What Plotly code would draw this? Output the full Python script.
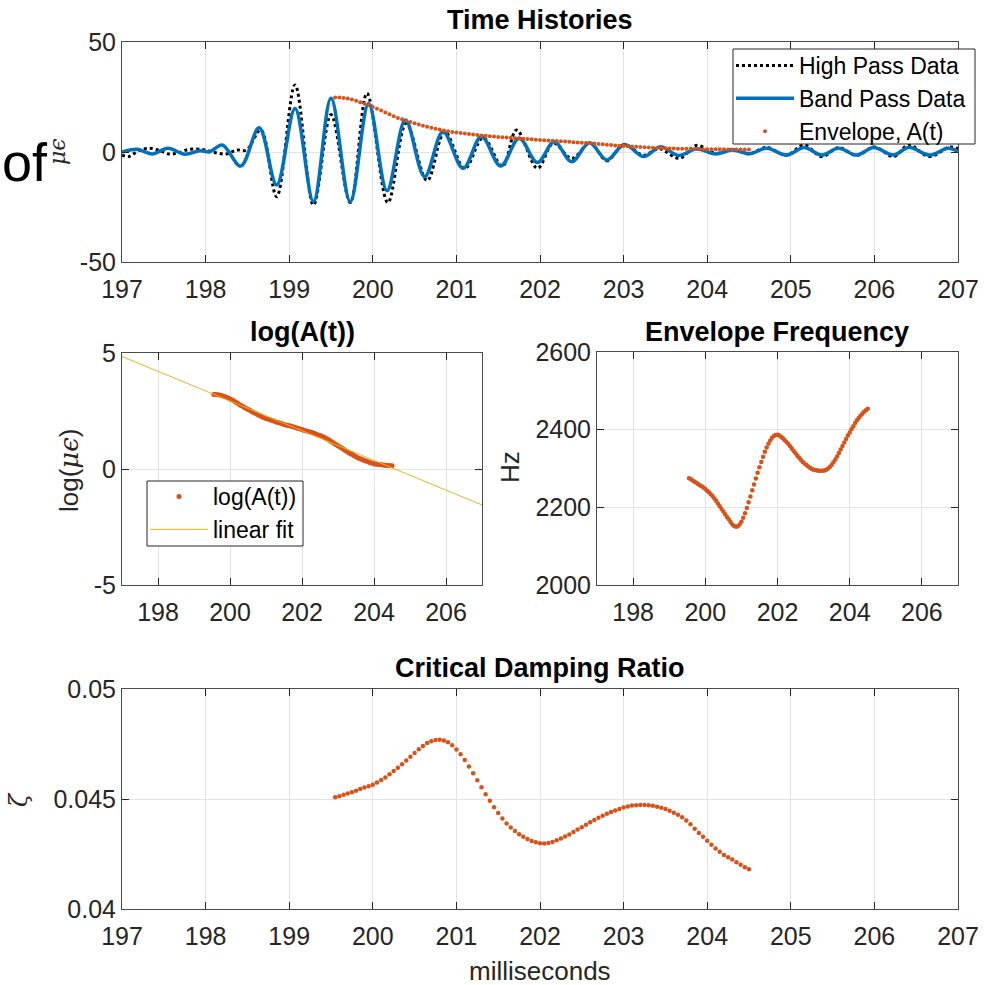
import numpy as np
import plotly.graph_objects as go

# ---------------- data ----------------
# Band pass data: extrema of the oscillation (ms, micro-strain)
t_band = [197.00, 197.18, 197.36, 197.55, 197.75, 197.93, 198.05, 198.20, 198.42, 198.64,
          198.85, 199.07, 199.29, 199.50, 199.73, 199.95, 200.17, 200.39, 200.62, 200.84,
          201.08, 201.30, 201.53, 201.75, 201.97, 202.17, 202.38, 202.59, 202.80, 203.01,
          203.24, 203.44, 203.66, 203.87, 204.10, 204.30, 204.51, 204.71, 204.95, 205.16,
          205.37, 205.57, 205.79, 205.99, 206.23, 206.41, 206.66, 206.88, 207.00]
v_band = [0.0, 1.2, -0.9, 1.7, -1.0, 0.6, 0.1, 3.2, -6.4, 11.0,
          -15.0, 19.8, -22.6, 24.4, -22.6, 22.1, -17.6, 14.5, -11.2, 9.2,
          -7.4, 7.0, -6.4, 6.2, -4.8, 4.7, -4.4, 4.2, -3.6, 3.4,
          -2.1, 2.4, -1.6, 1.4, -0.9, 0.9, -0.8, 1.7, -1.4, 2.1,
          -1.4, 1.7, -1.4, 2.1, -1.4, 2.1, -1.4, 1.7, 0.2]

# High pass data: extrema
t_high = [197.00, 197.08, 197.20, 197.32, 197.45, 197.56, 197.68, 197.80, 197.95, 198.05,
          198.15, 198.25, 198.37, 198.49, 198.66, 198.85, 199.07, 199.29, 199.50, 199.73,
          199.93, 200.18, 200.40, 200.65, 200.86, 201.10, 201.32, 201.55, 201.72, 201.97,
          202.16, 202.38, 202.60, 202.80, 203.00, 203.24, 203.42, 203.67, 203.87, 204.10,
          204.30, 204.50, 204.71, 204.95, 205.16, 205.37, 205.57, 205.79, 206.00, 206.23,
          206.41, 206.66, 206.90, 207.00]
v_high = [-1.4, -2.1, 0.6, 1.7, 0.7, -0.9, -0.3, 1.2, 1.2, 0.4,
          -0.6, -0.9, 0.9, 0.9, 10.0, -20.3, 30.5, -24.1, 17.0, -23.0,
          26.7, -23.0, 13.0, -13.0, 9.2, -7.5, 6.5, -6.5, 10.0, -7.4,
          4.0, -3.0, 4.0, -4.0, 3.4, -1.5, 1.5, -2.9, 3.0, -0.6,
          1.2, -0.9, 2.1, -1.4, 3.2, -2.1, 2.0, -1.6, 2.3, -2.1,
          3.2, -2.1, 2.3, 1.5]

# Envelope samples
t_env = [199.55, 199.60, 199.65, 199.70, 199.75, 199.80, 199.85, 199.90, 199.95, 200.00,
         200.05, 200.10, 200.15, 200.20, 200.25, 200.30, 200.35, 200.40, 200.45, 200.50,
         200.55, 200.60, 200.65, 200.70, 200.75, 200.80, 200.85, 200.90, 200.95, 201.00,
         201.05, 201.10, 201.15, 201.20, 201.25, 201.30, 201.35, 201.40, 201.45, 201.50,
         201.55, 201.60, 201.65, 201.70, 201.75, 201.80, 201.85, 201.90, 201.95, 202.00,
         202.05, 202.10, 202.15, 202.20, 202.25, 202.30, 202.35, 202.40, 202.45, 202.50,
         202.55, 202.60, 202.65, 202.70, 202.75, 202.80, 202.85, 202.90, 202.95, 203.00,
         203.05, 203.10, 203.15, 203.20, 203.25, 203.30, 203.35, 203.40, 203.45, 203.50,
         203.55, 203.60, 203.65, 203.70, 203.75, 203.80, 203.85, 203.90, 203.95, 204.00,
         204.05, 204.10, 204.15, 204.20, 204.25, 204.30, 204.35, 204.40, 204.45, 204.50]

log_env = [3.21, 3.21, 3.20, 3.19, 3.17, 3.15, 3.12, 3.09, 3.06, 3.02,
           2.98, 2.94, 2.89, 2.84, 2.79, 2.74, 2.70, 2.65, 2.61, 2.57,
           2.53, 2.48, 2.44, 2.40, 2.36, 2.32, 2.28, 2.24, 2.21, 2.18,
           2.15, 2.13, 2.10, 2.08, 2.05, 2.02, 2.00, 1.97, 1.95, 1.92,
           1.90, 1.88, 1.86, 1.84, 1.82, 1.80, 1.77, 1.75, 1.72, 1.70,
           1.67, 1.65, 1.63, 1.61, 1.58, 1.56, 1.53, 1.50, 1.47, 1.44,
           1.41, 1.38, 1.34, 1.29, 1.25, 1.20, 1.15, 1.10, 1.05, 1.00,
           0.95, 0.90, 0.85, 0.80, 0.75, 0.70, 0.66, 0.62, 0.57, 0.53,
           0.49, 0.45, 0.42, 0.39, 0.36, 0.33, 0.30, 0.27, 0.25, 0.23,
           0.21, 0.20, 0.19, 0.18, 0.17, 0.16, 0.15, 0.15, 0.14, 0.14]
envelope = np.exp(log_env)   # A(t)

freq_env = [2275, 2272, 2269, 2266, 2263, 2260, 2257, 2254, 2251, 2247,
            2243, 2239, 2234, 2229, 2223, 2217, 2210, 2203, 2196, 2189,
            2182, 2175, 2169, 2162, 2156, 2152, 2150, 2151, 2156, 2163,
            2173, 2185, 2198, 2213, 2228, 2244, 2259, 2274, 2289, 2303,
            2317, 2330, 2343, 2354, 2364, 2372, 2379, 2384, 2386, 2387,
            2385, 2382, 2378, 2373, 2368, 2363, 2357, 2351, 2345, 2339,
            2333, 2328, 2322, 2317, 2313, 2309, 2305, 2302, 2299, 2297,
            2296, 2295, 2294, 2294, 2294, 2295, 2297, 2300, 2304, 2309,
            2316, 2323, 2331, 2340, 2349, 2358, 2367, 2376, 2385, 2393,
            2401, 2409, 2417, 2424, 2430, 2436, 2441, 2446, 2450, 2454]

zeta_env = [0.04508, 0.04513, 0.04519, 0.04525, 0.04531, 0.04538, 0.04545, 0.04552, 0.04558, 0.04565,
            0.04575, 0.04586, 0.04598, 0.04612, 0.04627, 0.04642, 0.04658, 0.04675, 0.04692, 0.04709,
            0.04726, 0.04741, 0.04754, 0.04763, 0.04768, 0.04769, 0.04766, 0.04758, 0.04744, 0.04725,
            0.04703, 0.04677, 0.04648, 0.04617, 0.04585, 0.04553, 0.04522, 0.04492, 0.04463, 0.04436,
            0.04411, 0.04389, 0.04370, 0.04354, 0.04340, 0.04328, 0.04318, 0.04309, 0.04303, 0.04299,
            0.04298, 0.04300, 0.04305, 0.04312, 0.04320, 0.04329, 0.04339, 0.04350, 0.04361, 0.04372,
            0.04383, 0.04394, 0.04405, 0.04415, 0.04424, 0.04433, 0.04441, 0.04448, 0.04455, 0.04461,
            0.04466, 0.04470, 0.04472, 0.04473, 0.04473, 0.04472, 0.04469, 0.04465, 0.04460, 0.04454,
            0.04447, 0.04438, 0.04428, 0.04417, 0.04402, 0.04385, 0.04365, 0.04346, 0.04328, 0.04310,
            0.04292, 0.04275, 0.04260, 0.04246, 0.04235, 0.04225, 0.04213, 0.04201, 0.04190, 0.04181]

# linear fit of log(A(t))
fit_slope = -0.64          # per ms
fit_value_at_197 = 4.85
fit_t = [197, 207]
fit_y = [fit_value_at_197 + fit_slope * (t - 197) for t in fit_t]

# ---------------- styling ----------------
W, H = 990, 985
BLUE, ORANGE, YELLOW = "#0072BD", "#D95319", "#EDB120"
AX = "#262626"
GRID = "#e3e3e3"
FONT = "Liberation Sans, Arial, Helvetica, sans-serif"
SERIF = "DejaVu Serif, serif"


def px(xp):
    return xp / W


def py(yp):
    return 1 - yp / H


def axis(domain, anchor, tickvals, ticktext, rng, standoff=0):
    return dict(domain=domain, anchor=anchor, range=rng, tickvals=tickvals, ticktext=ticktext,
                automargin=False, ticklabelstandoff=standoff,
                showline=True, linecolor="#4a4a4a", linewidth=1, mirror="ticks",
                ticks="inside", ticklen=7, tickcolor=AX, tickwidth=1,
                showgrid=True, gridcolor=GRID, gridwidth=1, zeroline=False,
                tickfont=dict(size=25, color=AX, family=FONT))


fig = go.Figure()

# Top: time histories
fig.add_trace(go.Scatter(x=t_high, y=v_high, mode="lines", name="High Pass Data",
                         line=dict(color="black", width=3, dash="3px,3px", shape="spline", smoothing=1.0),
                         xaxis="x", yaxis="y", legend="legend"))
fig.add_trace(go.Scatter(x=t_band, y=v_band, mode="lines", name="Band Pass Data",
                         line=dict(color=BLUE, width=3.5, shape="spline", smoothing=1.0),
                         xaxis="x", yaxis="y", legend="legend"))
fig.add_trace(go.Scatter(x=t_env, y=envelope, mode="markers", name="Envelope, A(t)",
                         marker=dict(color=ORANGE, size=4),
                         xaxis="x", yaxis="y", legend="legend"))

# log(A(t))
fig.add_trace(go.Scatter(x=t_env, y=np.log(envelope), mode="markers", name="log(A(t))",
                         marker=dict(color=ORANGE, size=5),
                         xaxis="x2", yaxis="y2", legend="legend2"))
fig.add_trace(go.Scatter(x=fit_t, y=fit_y, mode="lines", name="linear fit",
                         line=dict(color=YELLOW, width=1),
                         xaxis="x2", yaxis="y2", legend="legend2"))

# Envelope frequency
fig.add_trace(go.Scatter(x=t_env, y=freq_env, mode="markers", showlegend=False,
                         marker=dict(color=ORANGE, size=4.5), xaxis="x3", yaxis="y3"))

# Critical damping ratio
fig.add_trace(go.Scatter(x=t_env, y=zeta_env, mode="markers", showlegend=False,
                         marker=dict(color=ORANGE, size=4.5), xaxis="x4", yaxis="y4"))

ms_ticks = [197, 198, 199, 200, 201, 202, 203, 204, 205, 206, 207]
ms_text = [str(v) for v in ms_ticks]
even_ticks = [198, 200, 202, 204, 206]
even_text = [str(v) for v in even_ticks]

legend_font = dict(size=23, color="black", family=FONT)
layout = dict(
    width=W, height=H, margin=dict(l=0, r=0, t=0, b=0, autoexpand=False),
    paper_bgcolor="white", plot_bgcolor="white",
    font=dict(family=FONT, color=AX),
    xaxis=axis([px(122), px(958)], "y", ms_ticks, ms_text, [197, 207], standoff=5),
    yaxis=axis([py(262), py(42)], "x", [-50, 0, 50], ["-50", "0", "50"], [-50, 50]),
    xaxis2=axis([px(122), px(482)], "y2", even_ticks, even_text, [197, 207], standoff=5),
    yaxis2=axis([py(585), py(353)], "x2", [-5, 0, 5], ["-5", "0", "5"], [-5, 5]),
    xaxis3=axis([px(597), px(958)], "y3", even_ticks, even_text, [197, 207], standoff=5),
    yaxis3=axis([py(585), py(352)], "x3", [2000, 2200, 2400, 2600],
                ["2000", "2200", "2400", "2600"], [2000, 2600]),
    xaxis4=axis([px(122), px(958)], "y4", ms_ticks, ms_text, [197, 207], standoff=5),
    yaxis4=axis([py(909), py(689)], "x4", [0.04, 0.045, 0.05], ["0.04", "0.045", "0.05"], [0.04, 0.05]),
    legend=dict(x=px(731), y=py(44), xanchor="left", yanchor="top", bgcolor="rgba(0,0,0,0)",
                borderwidth=0, font=legend_font, itemwidth=58, tracegroupgap=0),
    legend2=dict(x=px(145), y=py(475), xanchor="left", yanchor="top", bgcolor="rgba(0,0,0,0)",
                 borderwidth=0, font=legend_font, itemwidth=58, tracegroupgap=0),
    shapes=[
        dict(type="rect", xref="paper", yref="paper", layer="above",
             x0=px(733), x1=px(975), y0=py(144), y1=py(49),
             line=dict(color=AX, width=1), fillcolor="white"),
        dict(type="rect", xref="paper", yref="paper", layer="above",
             x0=px(147), x1=px(303), y0=py(546), y1=py(481),
             line=dict(color=AX, width=1), fillcolor="white"),
    ],
)
fig.update_layout(**layout)


def ann(text, x, y, size, bold=False, angle=0, color="black", family=FONT, xanchor="center"):
    if bold:
        text = "<b>" + text + "</b>"
    fig.add_annotation(text=text, x=px(x), y=py(y), xref="paper", yref="paper",
                       showarrow=False, textangle=angle, xanchor=xanchor, yanchor="middle",
                       font=dict(size=size, color=color, family=family))


# titles
ann("Time Histories", 540, 20, 27, bold=True)
ann("log(A(t))", 302, 332, 27, bold=True)
ann("Envelope Frequency", 777, 332, 27, bold=True)
ann("Critical Damping Ratio", 540, 668, 27, bold=True)

# axis labels
ann("milliseconds", 540, 971, 26, color=AX)
ann("Hz", 510, 467, 26, angle=-90, color=AX)
ann("<i>μϵ</i>", 57, 152, 22, angle=-90, color=AX, family=SERIF)
ann("log(<span style='font-family:DejaVu Serif'><i>μϵ</i></span>)", 69, 470, 26, angle=-90, color=AX)
ann("<i>ζ</i>", 19, 800, 24, angle=-90, color=AX, family=SERIF)

# stray large text at the left edge
ann("of", 50, 162, 54, color="black", xanchor="right")

fig.write_html("out.html", config={"displayModeBar": False},
               post_script="document.body.style.margin='0';document.body.style.overflow='hidden';")
